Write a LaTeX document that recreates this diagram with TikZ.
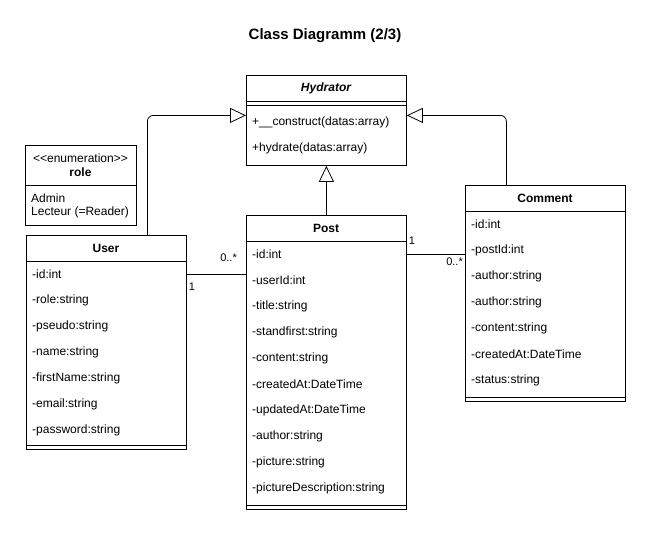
\documentclass[tikz,border=0pt]{standalone}
\usepackage{fontspec}
\setmainfont{Liberation Sans}
\usepackage{tikz}
\usetikzlibrary{positioning, arrows.meta}

\tikzset{
  classbox/.style={draw, line width=0.8pt, anchor=north west, inner sep=0pt, minimum width=160pt},
  classname/.style={font=\bfseries, inner sep=0pt},
  attr/.style={anchor=west, inner sep=0pt},
  extends/.style={line width=0.8pt, -{Triangle[open, length=16pt, width=15pt]}, rounded corners=6pt},
  assoc/.style={line width=0.8pt},
  mult/.style={font=\fontsize{11}{13}\selectfont, inner sep=0pt}
}

\begin{document}
\fontsize{12}{14}\selectfont%
\begin{tikzpicture}[x=1pt, y=-1pt]
    \useasboundingbox (0,0) rectangle (651,535);
    \node[font=\fontsize{15}{18}\selectfont\bfseries] (title) at (325,36) {Class Diagramm (2/3)};

    % Hydrator
    \node[classbox, minimum height=90pt] (hydrator) at (246,75) {};
    \node[classname, font=\bfseries\itshape] (hydname) at (326,88) {Hydrator};
    \draw[line width=0.8pt] (hydrator.north west) ++(0,26) -- ++(160,0);
    \draw[line width=0.8pt] (hydrator.north west) ++(0,30) -- ++(160,0);
    \node[attr] (h1) at (252,122) {+\_\_construct(datas:array)};
    \node[attr] (h2) at (252,148) {+hydrate(datas:array)};

    % enumeration role
    \node[classbox, minimum width=111pt, minimum height=80pt] (role) at (25,145) {};
    \node[inner sep=0pt] (enum) at (80.5,158) {<\kern0pt<enumeration>\kern0pt>};
    \node[classname] (rolename) at (80.5,172) {role};
    \draw[line width=0.8pt] (role.north west) ++(0,40) -- ++(111,0);
    \node[attr] (r1) at (31,198) {Admin};
    \node[attr] (r2) at (31,212) {Lecteur (=Reader)};

    % User
    \node[classbox, minimum height=214pt] (user) at (26,235) {};
    \node[classname] (username) at (106,248) {User};
    \draw[line width=0.8pt] (user.north west) ++(0,26) -- ++(160,0);
    \foreach \a [count=\i] in {-id:int, -role:string, -pseudo:string, -name:string,
        -firstName:string, -email:string, -password:string}
        \node[attr] (u\i) at (32,248+26*\i) {\a};
    \draw[line width=0.8pt] (user.south west) ++(0,-4) -- ++(160,0);

    % Post
    \node[classbox, minimum height=294pt] (post) at (246,215) {};
    \node[classname] (postname) at (326,228) {Post};
    \draw[line width=0.8pt] (post.north west) ++(0,26) -- ++(160,0);
    \foreach \a [count=\i] in {-id:int, -userId:int, -title:string, -standfirst:string,
        -content:string, -createdAt:DateTime, -updatedAt:DateTime, -author:string,
        -picture:string, -pictureDescription:string}
        \node[attr] (p\i) at (252,228+26*\i) {\a};
    \draw[line width=0.8pt] (post.south west) ++(0,-4) -- ++(160,0);

    % Comment
    \node[classbox, minimum height=216pt] (comment) at (465,185) {};
    \node[classname] (commentname) at (545,198) {Comment};
    \draw[line width=0.8pt] (comment.north west) ++(0,26) -- ++(160,0);
    \foreach \a [count=\i] in {-id:int, -postId:int, -author:string, -author:string,
        -content:string, -createdAt:DateTime, -status:string}
        \node[attr] (c\i) at (471,198+26*\i) {\a};
    \draw[line width=0.8pt] (comment.south west) ++(0,-4) -- ++(160,0);

    % inheritance
    \draw[extends] ([xshift=41pt]user.north) |- ([yshift=5pt]hydrator.west);
    \draw[extends] (post.north) -- (hydrator.south);
    \draw[extends] ([xshift=-39pt]comment.north) |- ([yshift=5pt]hydrator.east);

    % associations
    \draw[assoc] (user.east |- u1) -- (post.west |- u1);
    \draw[assoc] (post.east |- p1) -- (comment.west |- p1);
    \node[mult, anchor=east] (m1) at (237,258) {0..*};
    \node[mult] (m2) at (192,287) {1};
    \node[mult] (m3) at (412,241) {1};
    \node[mult, anchor=east] (m4) at (463,262) {0..*};
\end{tikzpicture}
\end{document}
